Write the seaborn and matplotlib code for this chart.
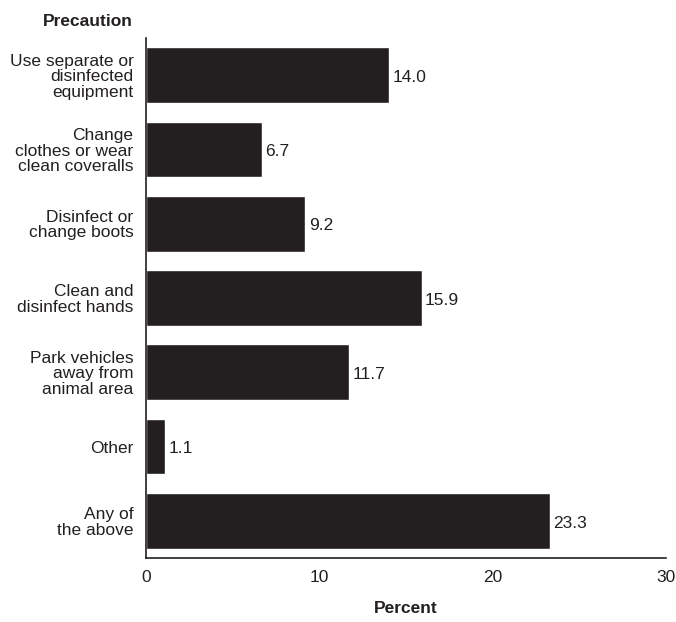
import matplotlib
matplotlib.use("Agg")
import matplotlib.pyplot as plt
import seaborn as sns
import pandas as pd

# Data
precautions = [
    "Use separate or\ndisinfected\nequipment",
    "Change\nclothes or wear\nclean coveralls",
    "Disinfect or\nchange boots",
    "Clean and\ndisinfect hands",
    "Park vehicles\naway from\nanimal area",
    "Other",
    "Any of\nthe above",
]
percent = [14.0, 6.7, 9.2, 15.9, 11.7, 1.1, 23.3]
x_ticks = [0, 10, 20, 30]

df = pd.DataFrame({"precaution": precautions, "percent": percent})

ink = "#231f20"
fs = 12.5

sns.set_style("white")
plt.rcParams["font.family"] = ["Liberation Sans", "DejaVu Sans"]

fig = plt.figure(figsize=(6.76, 6.22), dpi=100)
ax = fig.add_axes([146 / 676, 64 / 622, 520 / 676, 520 / 622])

sns.barplot(data=df, x="percent", y="precaution", color=ink,
            saturation=1, width=0.75, ax=ax, orient="h")

for p, v in zip(ax.patches, percent):
    ax.text(p.get_width() + 0.2, p.get_y() + p.get_height() / 2 + 0.03,
            f"{v:.1f}", va="center", ha="left", fontsize=fs, color=ink)

ax.set_xlim(0, 30)
ax.set_ylim(6.5, -0.5)
ax.set_xticks(x_ticks)
ax.set_xticklabels([str(t) for t in x_ticks], fontsize=fs, color=ink)
ax.tick_params(axis="y", labelsize=fs, colors=ink, length=0, pad=9)
ax.tick_params(axis="x", length=0, pad=9)
for lab in ax.get_yticklabels():
    lab.set_ha("right")
    lab.set_multialignment("right")
    lab.set_linespacing(1.02)

ax.set_ylabel("")
ax.set_xlabel("Percent", fontsize=fs, fontweight="bold", labelpad=11, color=ink)
sns.despine(ax=ax)
for s in ["left", "bottom"]:
    ax.spines[s].set_color(ink)
    ax.spines[s].set_linewidth(1.2)

fig.text(133 / 676, 1 - 21 / 622, "Precaution", fontsize=fs, fontweight="bold",
         color=ink, ha="right", va="center")

fig.savefig("out.png", dpi=100)
